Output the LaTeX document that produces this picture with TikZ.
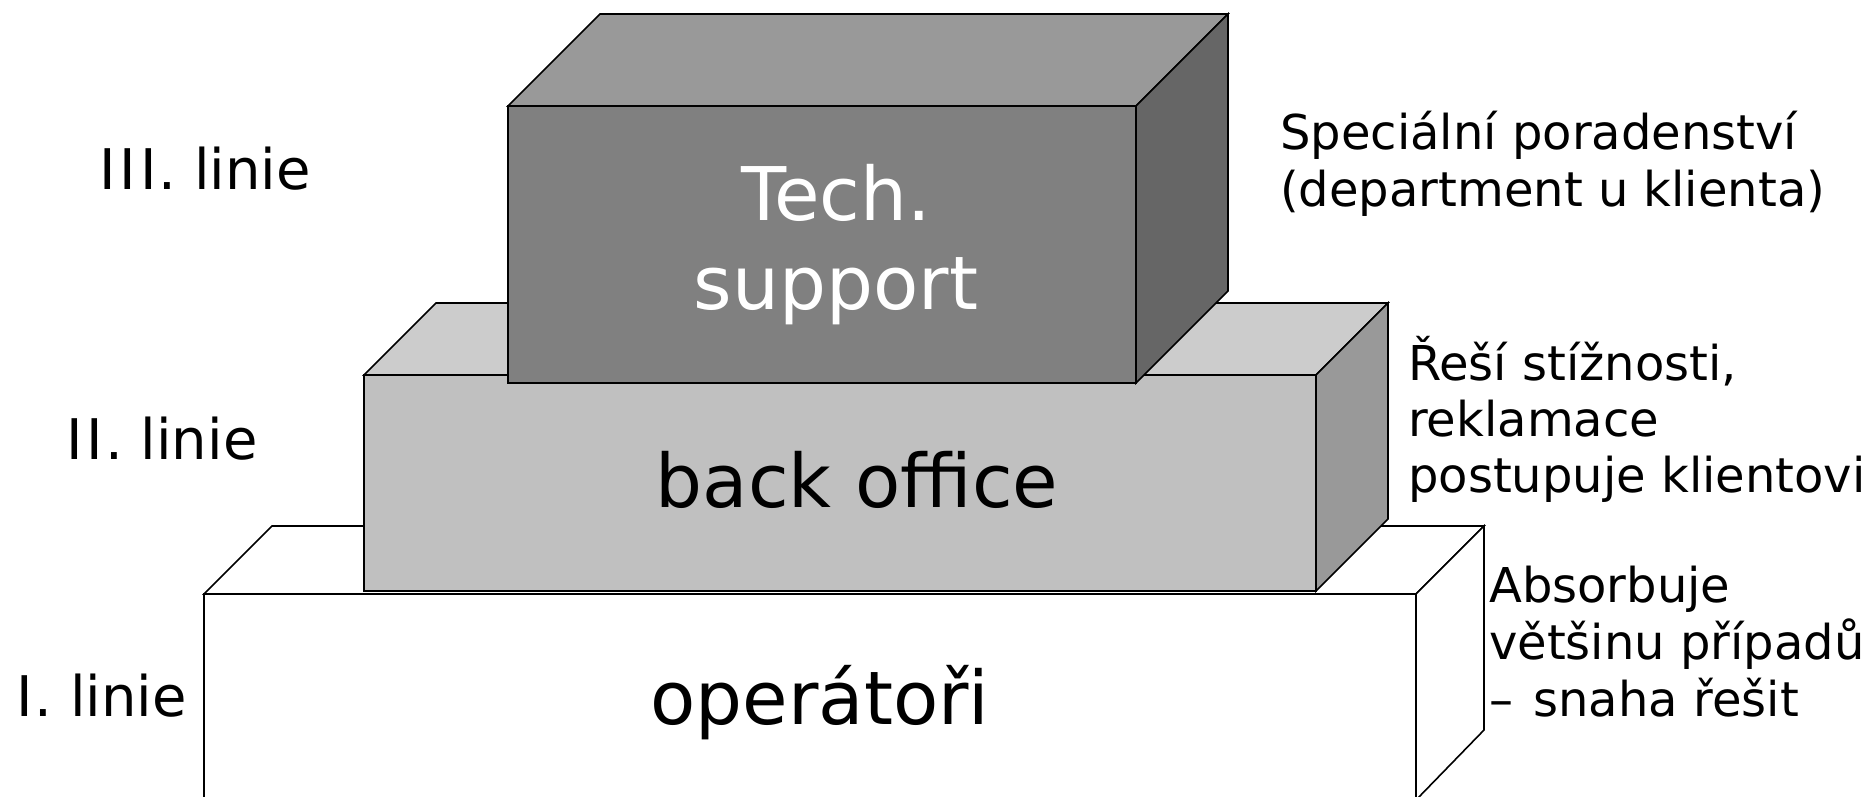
\documentclass[tikz,border=0pt]{standalone}
\usepackage{fontspec}
\setmainfont{DejaVu Sans}
\definecolor{techfront}{HTML}{808080}
\definecolor{techtop}{HTML}{999999}
\definecolor{techside}{HTML}{666666}
\definecolor{bofront}{HTML}{C0C0C0}
\definecolor{botop}{HTML}{CCCCCC}
\definecolor{boside}{HTML}{999999}
\tikzset{
  face/.style={draw=black, line width=1.6pt, line join=miter},
  boxlabel/.style={inner sep=0pt, anchor=base, font=\fontsize{74}{88}\selectfont},
  sidenote/.style={inner sep=0pt, anchor=base west, font=\fontsize{48}{58}\selectfont},
  levellabel/.style={inner sep=0pt, anchor=base west, font=\fontsize{56}{67}\selectfont}
}
\begin{document}
\begin{tikzpicture}[x=1pt, y=-1pt]
\useasboundingbox (0,0) rectangle (1871,796);
\begin{scope}
\clip (0,0) rectangle (1871,796);
% operators box (I. linie)
\filldraw[face, fill=white] (204,594) rectangle (1416,800);
\filldraw[face, fill=white] (204,594) -- (272,526) -- (1484,526) -- (1416,594) -- cycle;
\filldraw[face, fill=white] (1416,594) -- (1484,526) -- (1484,730) -- (1416,800) -- cycle;
% back office box (II. linie)
\filldraw[face, fill=bofront] (364,375) rectangle (1316,591);
\filldraw[face, fill=botop] (364,375) -- (436,303) -- (1388,303) -- (1316,375) -- cycle;
\filldraw[face, fill=boside] (1316,375) -- (1388,303) -- (1388,519) -- (1316,591) -- cycle;
% tech support box (III. linie)
\filldraw[face, fill=techfront] (508,106) rectangle (1136,383);
\filldraw[face, fill=techtop] (508,106) -- (600,14) -- (1228,14) -- (1136,106) -- cycle;
\filldraw[face, fill=techside] (1136,106) -- (1228,14) -- (1228,291) -- (1136,383) -- cycle;
\end{scope}
% box labels
\node[boxlabel, text=white] (tech1) at (836,220) {Tech.};
\node[boxlabel, text=white] (tech2) at (836,309) {support};
\node[boxlabel] (bo) at (857,507) {back office};
\node[boxlabel] (op) at (820,724) {operátoři};
% level labels
\node[levellabel] (l3) at (97,189) {\kern2pt I\kern4pt I\kern4pt I\kern2pt. linie};
\node[levellabel] (l2) at (64,459) {\kern2pt I\kern4pt I\kern2pt. linie};
\node[levellabel] (l1) at (14,716) {\kern2pt I\kern2pt. linie};
% side notes
\node[sidenote] (s3a) at (1280,149) {Speciální poradenství};
\node[sidenote] (s3b) at (1280,206) {(department u klienta)};
\node[sidenote] (s2a) at (1408,380) {Řeší stížnosti,};
\node[sidenote] (s2b) at (1408,436) {reklamace};
\node[sidenote] (s2c) at (1408,492) {postupuje klientovi};
\node[sidenote] (s1a) at (1489,602) {Absorbuje};
\node[sidenote] (s1b) at (1489,659) {většinu případů};
\node[sidenote] (s1c) at (1489,716) {–\kern5pt{} snaha řešit};
\end{tikzpicture}
\end{document}
